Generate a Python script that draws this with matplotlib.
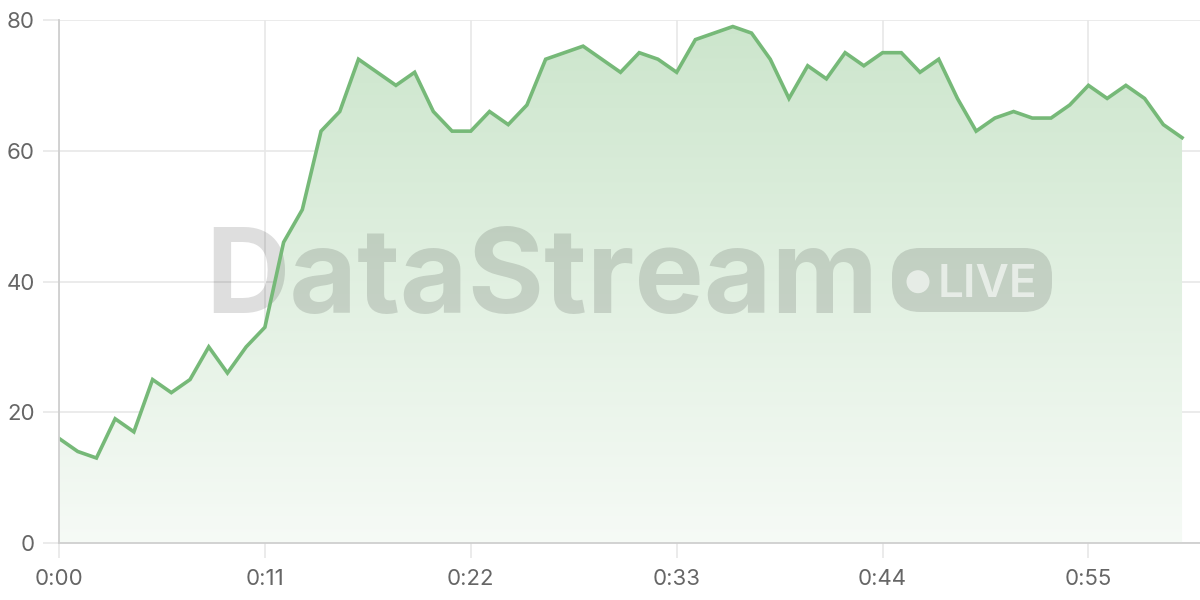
import numpy as np
import matplotlib
matplotlib.use("Agg")
import matplotlib.pyplot as plt
from matplotlib.patches import FancyBboxPatch, Circle, Polygon
from matplotlib.colors import LinearSegmentedColormap

# ---- data ----
seconds = list(range(61))
values = [16, 14, 13, 19, 17, 25, 23, 25, 30, 26,
          30, 33, 46, 51, 63, 66, 74, 72, 70, 72,
          66, 63, 63, 66, 64, 67, 74, 75, 76, 74,
          72, 75, 74, 72, 77, 78, 79, 78, 74, 68,
          73, 71, 75, 73, 75, 75, 72, 74, 68, 63,
          65, 66, 65, 65, 67, 70, 68, 70, 68, 64,
          62]
xticks = [0, 11, 22, 33, 44, 55]
xtick_labels = ["0:00", "0:11", "0:22", "0:33", "0:44", "0:55"]
yticks = [0, 20, 40, 60, 80]
watermark = "DataStream"
badge = "LIVE"

# ---- style ----
plt.rcParams['font.family'] = ['Inter', 'DejaVu Sans']
line_color = "#76b978"
grid_color = "#e8e8e8"
axis_color = "#cfcfcf"
text_color = "#666666"

fig = plt.figure(figsize=(12, 6), dpi=100)
ax = fig.add_axes([59/1200, 57/600, 1141/1200, 523/600])

ax.set_xlim(0, 60.96)
ax.set_ylim(0, 80)

# gradient fill under the line
x = np.array(seconds, dtype=float)
y = np.array(values, dtype=float)
cmap = LinearSegmentedColormap.from_list(
    "g", [(0.965, 0.982, 0.965), (0.80, 0.90, 0.80)])
grad = np.linspace(0, 1, 256).reshape(-1, 1)
im = ax.imshow(grad, extent=[0, 60, 0, 80], origin="lower", aspect="auto",
               cmap=cmap, zorder=1)
poly = Polygon(np.column_stack([np.r_[x, x[-1], x[0]], np.r_[y, 0, 0]]),
               closed=True, facecolor="none", edgecolor="none")
ax.add_patch(poly)
im.set_clip_path(poly)

ax.plot(x, y, color=line_color, lw=2.6, zorder=5, solid_joinstyle="miter")

# grid and axes
ax.set_xticks(xticks)
ax.set_xticklabels(xtick_labels)
ax.set_yticks(yticks)
ax.grid(True, color=grid_color, lw=1.2, zorder=0)
ax.set_axisbelow(True)
for s in ["top", "right"]:
    ax.spines[s].set_visible(False)
for s in ["left", "bottom"]:
    ax.spines[s].set_color(axis_color)
    ax.spines[s].set_linewidth(1.3)
    ax.spines[s].set_zorder(6)
ax.tick_params(axis="y", length=11.5, width=1.2, color=grid_color,
               labelsize=16, labelcolor=text_color, pad=6)
ax.tick_params(axis="x", length=11, width=1.2, color=grid_color,
               labelsize=16, labelcolor=text_color, pad=8)

# watermark (drawn between fill and line)
tr = fig.dpi_scale_trans
ax.text(2.05, 6.00 - 3.13, watermark, transform=tr, fontsize=84,
        fontweight="bold", color="black", alpha=0.13, ha="left",
        va="baseline", zorder=3, clip_on=False)
pill = FancyBboxPatch((8.92, 6.00 - 3.12), 1.60, 0.64,
                      boxstyle="round,pad=0,rounding_size=0.28",
                      transform=tr, facecolor="black", alpha=0.13,
                      edgecolor="none", zorder=3, clip_on=False)
ax.add_patch(pill)
ax.add_patch(Circle((9.18, 6.00 - 2.817), 0.115, transform=tr,
                    facecolor="white", alpha=0.6, edgecolor="none",
                    zorder=4, clip_on=False))
ax.text(9.38, 6.00 - 2.967, badge, transform=tr, fontsize=33,
        fontweight="semibold", color="white", alpha=0.6, ha="left",
        va="baseline", zorder=4, clip_on=False)

fig.savefig("out.png", dpi=100)
